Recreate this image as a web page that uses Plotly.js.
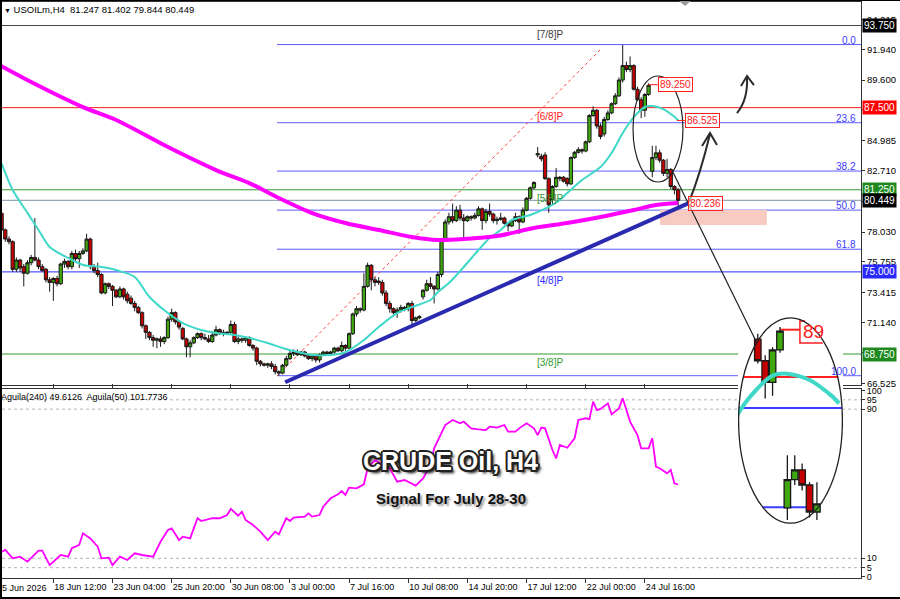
<!DOCTYPE html>
<html><head><meta charset="utf-8">
<script src="https://cdn.plot.ly/plotly-3.0.1.min.js"></script>
<style>
html,body{margin:0;padding:0;background:#fff;}
#wrap{position:relative;width:900px;height:599px;overflow:hidden;}
#chart{width:900px;height:599px;}
#frame{position:absolute;left:0;top:0;width:900px;height:599px;box-sizing:border-box;border-left:2px solid #000;border-bottom:2px solid #000;border-top:1px solid #000;pointer-events:none;}
</style>
</head><body><div id="wrap"><div id="chart"></div><div id="frame"></div></div>
<script>
// ---------------- DATA ----------------
const symbol = 'USOILm,H4';
const firstBar = 2;
const tickBars = [16,32,48,64,80,96,112,128,144,160,176];
const tickLabels = ['18 Jun 12:00','23 Jun 04:00','25 Jun 20:00','30 Jun 08:00','3 Jul 00:00','7 Jul 16:00','10 Jul 08:00','14 Jul 20:00','17 Jul 12:00','22 Jul 00:00','24 Jul 16:00'];
const firstLabel = '15 Jun 2026';
const priceTicks = [94.215,91.940,89.600,87.325,84.985,82.710,80.370,78.030,75.755,73.415,71.140,68.865,66.525];
const indTicks = [0,5,10,90,95,100];
const indLevels = [95,90,10,5];

const opens = [79.46,78.2,77.5,77.3,75.2,75.9,75.4,74.9,75.7,76.1,
75.9,75.4,75.2,74.4,74.2,74.5,74.1,75.6,75.8,75.4,
76.4,76.0,76.4,76.6,77.5,75.4,75.1,74.8,73.4,74.1,
73.9,73.6,73.1,73.7,73.3,73.0,72.6,72.3,71.9,70.9,
70.4,70.0,69.8,69.9,69.7,70.0,71.4,71.9,71.2,70.7,
69.9,69.3,69.6,70.0,70.3,70.0,69.9,69.7,70.2,70.6,
70.4,70.3,70.4,71.0,69.7,69.9,69.8,70.0,69.4,69.2,
68.2,68.0,67.9,68.0,67.8,67.4,67.3,67.9,68.4,68.8,
68.9,68.7,68.9,68.6,68.4,68.6,68.3,68.7,68.9,68.8,
68.9,69.2,69.0,69.4,69.2,70.3,71.8,72.2,72.1,73.9,
75.5,74.4,74.3,74.2,73.4,72.6,72.2,71.9,72.1,72.3,
72.2,72.6,71.3,71.5,73.1,73.6,74.1,73.9,73.7,74.8,
77.4,78.8,79.2,78.9,79.7,79.1,78.9,79.2,79.1,79.3,
79.8,78.9,79.6,79.4,78.9,79.0,79.1,78.7,78.5,78.9,
79.2,78.8,79.7,80.6,81.4,83.9,83.8,83.9,82.1,80.5,
81.5,82.1,82.2,82.1,81.7,83.7,84.1,84.3,84.2,84.9,
86.9,87.3,86.1,85.5,86.6,87.1,87.8,88.4,89.6,90.7,
90.4,90.7,88.9,88.1,87.3,88.5,82.65,83.7,84.06,83.5,
82.5,82.8,81.5,81.247];
const highs = [79.6,78.3,77.7,77.4,76.1,76.0,75.6,75.9,76.3,79.1,
76.1,75.6,75.3,74.6,74.6,74.7,75.7,76.0,75.9,76.6,
76.7,76.6,76.8,77.9,77.6,75.6,75.7,74.9,74.2,74.2,
74.0,73.7,73.9,73.8,73.5,73.2,72.8,72.4,72.0,71.0,
70.5,70.2,70.0,70.1,70.1,71.6,72.2,72.0,71.3,70.8,
70.0,69.8,70.1,70.4,70.4,70.3,70.2,70.5,70.9,70.7,
70.6,70.5,71.3,71.2,70.1,70.0,70.1,70.1,69.5,69.3,
68.3,68.1,68.1,68.2,68.0,67.5,68.0,68.6,69.0,69.1,
69.1,69.0,69.0,68.7,68.7,68.7,68.8,69.0,69.0,69.0,
69.3,69.3,69.7,69.5,70.4,71.9,72.4,72.3,74.9,75.7,
75.6,74.6,74.6,74.4,73.6,72.8,72.3,72.3,72.5,72.4,
72.7,72.8,71.6,71.7,73.7,74.4,74.6,74.0,75.0,77.5,
79.0,79.5,80.2,80.0,80.1,79.4,79.3,79.3,79.5,80.0,
79.9,79.8,80.2,79.5,79.2,79.5,79.2,78.8,79.0,79.5,
79.3,79.9,80.7,81.5,81.9,84.5,84.0,84.1,82.2,81.6,
82.9,82.3,82.3,82.2,83.8,84.2,84.5,84.4,85.0,87.0,
87.6,87.4,86.3,86.8,87.3,87.9,88.6,89.8,92.27,91.0,
91.4,90.8,89.1,88.3,88.6,89.35,84.6,84.6,84.3,83.6,
83.6,82.9,81.6,81.402];
const lows = [78.1,77.3,77.1,75.0,75.0,75.0,73.9,74.8,75.5,75.8,
75.2,75.0,74.2,73.5,72.8,73.9,74.0,75.3,75.2,75.2,
75.8,75.3,76.3,76.5,75.2,74.9,74.6,73.3,73.3,73.7,
72.4,73.0,73.0,72.9,72.6,72.5,72.0,71.8,70.7,69.9,
69.8,69.3,69.2,69.3,69.5,69.9,71.2,71.0,70.6,69.8,
68.5,68.5,69.5,69.9,69.8,69.8,69.6,69.6,70.1,70.2,
70.1,70.2,70.3,69.6,69.5,69.6,69.6,69.3,69.0,67.9,
67.8,67.8,67.7,67.6,67.2,67.1,67.2,67.8,68.3,68.6,
68.6,68.6,68.5,68.3,68.2,68.1,68.1,68.6,68.7,68.7,
68.8,68.9,68.9,69.0,69.1,70.2,71.6,71.9,72.0,73.8,
73.6,73.9,74.0,73.2,72.4,71.9,71.6,71.5,71.9,72.0,
72.0,71.0,71.2,71.4,72.9,73.5,73.7,72.6,73.6,74.6,
77.3,78.6,78.7,78.8,78.9,77.4,78.8,78.9,79.0,79.2,
78.2,78.7,79.2,78.7,78.6,78.9,78.6,78.1,78.4,78.8,
77.9,78.7,79.6,80.5,81.3,83.7,83.4,82.0,79.5,80.1,
81.4,81.9,81.8,81.5,81.6,83.6,84.0,84.0,84.1,84.8,
86.8,85.9,85.1,85.3,86.5,87.0,87.7,88.3,89.4,90.2,
90.2,88.8,88.0,86.7,86.8,88.4,82.2,83.5,83.3,82.3,
82.2,81.3,80.9,79.844];
const closes = [78.19,77.5,77.3,75.2,75.9,75.3,74.9,75.7,76.1,75.9,
75.4,75.1,74.4,74.2,74.5,74.1,75.6,75.8,75.4,76.4,
76.0,76.4,76.6,77.5,75.4,75.1,74.8,73.4,74.1,73.9,
73.6,73.1,73.7,73.1,72.8,72.6,72.3,71.9,70.9,70.4,
70.0,69.8,69.9,69.7,70.0,71.4,71.9,71.2,70.8,69.9,
69.3,69.6,70.0,70.3,70.0,69.9,69.7,70.2,70.6,70.4,
70.3,70.4,71.0,69.7,69.9,69.8,70.0,69.4,69.2,68.2,
68.0,67.9,68.0,67.8,67.4,67.3,67.9,68.4,68.8,68.9,
68.7,68.9,68.6,68.4,68.6,68.3,68.7,68.9,68.8,68.9,
69.2,69.0,69.4,69.2,70.3,71.8,72.2,72.1,73.9,75.5,
74.4,74.2,74.2,73.4,72.6,72.2,71.9,72.1,72.3,72.2,
72.6,71.3,71.5,71.6,73.6,74.1,73.9,73.7,74.8,77.4,
78.8,79.2,78.9,79.7,79.1,78.9,79.2,79.1,79.3,79.8,
78.9,79.6,79.4,78.9,79.0,79.1,78.7,78.5,78.9,79.2,
78.8,79.7,80.6,81.4,81.8,84.0,83.6,82.1,80.1,81.5,
82.2,82.2,81.9,81.7,83.7,84.1,84.3,84.2,84.9,86.9,
87.3,86.1,85.3,86.6,87.1,87.8,88.4,89.6,90.7,90.4,
90.7,88.9,88.1,87.3,88.5,89.2,83.7,84.06,83.5,82.5,
82.8,81.5,81.25,80.449];

// slow moving average (magenta, thick)
const maBars = [1,10,24,33,47,60,69,77,86,95,104,113,120,127,136,146,155,164,173,179,185];
const maVals = [90.8,89.45,87.54,86.56,84.50,82.75,81.76,80.62,79.48,78.72,78.19,77.66,77.43,77.50,77.73,78.34,78.72,79.18,79.71,80.09,80.236];
// fast moving average (turquoise)
const cyanBars = [2,5,9,12,15,20,24,29,33,38,42,47,51,56,60,65,69,74,78,82,86,91,95,100,104,109,113,118,120,123,127,131,134,137,140,145,150,153,155,159,164,167,170,173,176,178,181,184,185];
const cyanVals = [83.26,81.23,79.49,78.19,76.90,76.06,75.53,75.37,75.14,74.61,73.09,71.87,71.11,70.58,70.35,70.20,69.97,69.59,69.21,68.90,68.68,68.68,68.90,69.82,70.81,71.87,72.33,72.86,73.47,74.15,75.37,76.67,77.58,78.19,78.95,79.33,79.94,80.47,81.00,81.99,82.98,84.05,85.57,86.78,87.55,87.62,87.39,86.80,86.525];
// oscillator (Aguila 240)
const indBars = [2,3,5,7,9,12,13,15,18,20,21,23,24,26,28,29,31,32,34,36,38,40,43,45,47,48,50,51,53,55,56,59,61,63,64,66,67,68,70,72,74,76,77,79,80,81,84,85,86,88,89,91,93,94,95,96,98,100,101,103,107,109,111,112,114,116,118,119,122,124,126,127,129,131,133,134,136,138,139,141,142,144,146,147,148,149,151,152,153,155,157,158,160,161,162,163,164,166,167,169,170,172,174,175,177,178,179,180,182,183,184,185];
const indVals = [13.6,14.5,10.0,10.9,8.2,14.1,14.1,6.4,11.8,10.9,15.4,17.2,23.4,20.7,16.3,10.0,10.4,6.4,10.9,9.1,12.7,11.8,10.9,18.9,25.2,26.1,19.8,21.6,20.7,31.5,30.0,31.5,31.5,33.2,36.5,32.9,35.0,30.6,27.9,24.3,19.8,24.3,22.9,31.5,30.0,31.8,32.4,34.1,32.4,33.2,37.7,42.2,44.3,46.1,44.0,47.9,47.5,49.7,58.3,62.7,58.3,51.1,52.0,51.1,49.0,52.9,60.1,69.0,81.5,84.2,82.4,83.3,79.7,79.2,78.8,80.6,80.1,81.5,77.9,77.9,79.7,82.4,79.7,76.1,80.1,79.7,68.1,63.6,70.8,69.3,74.4,84.2,85.1,84.6,94.0,89.5,90.1,93.1,87.2,90.4,95.8,83.3,76.1,69.0,69.0,74.4,59.2,58.3,55.6,57.4,50.2,49.6];
const indLegend = 'Aguila(240) 49.6126  Aguila(50) 101.7736';

// horizontal levels (Murrey)
const levelPrices = [93.75,87.5,81.25,75.0,68.75];
const levelNames = ['[7/8]P','[6/8]P','[5/8]P','[4/8]P','[3/8]P'];
const levelColors = ['#3a3a3a','#ff1a1a','#2f9a2f','#2a2aff','#2f9a2f'];
const levelBoxColors = ['#000000','#ff0000','#1e8a1e','#2a2aff','#1e8a1e'];
// Fibonacci retracement
const fibHigh = 92.30, fibLow = 67.10, fibStartBar = 76.5;
const fibLevels = [0.0,23.6,38.2,50.0,61.8,100.0];
const fibLabels = ['0.0','23.6','38.2','50.0','61.8','100.0'];
// trend line and dotted fib trend
const trendBars = [78.7,187.7], trendPrices = [66.6,80.22];
const dotBars = [76.5,164.4], dotPrices = [67.08,92.04];
// marked prices
const markHigh = 89.25;
const markFast = cyanVals[cyanVals.length-1];
const markSlow = maVals[maVals.length-1];
// support zone
const zoneBars = [180.1,209.0], zonePrices = [78.57,79.71];

// ---------------- GEOMETRY ----------------
const L=2, R=861, T=2, B=578;
const pxX = p => (p-L)/(R-L);
const pxY = p => (B-p)/(B-T);
const xRange = [2.11,234.46];
const yRange = [66.393,95.54];
const y2Range = [-0.54,100.8];
const insetX = [171.32,185.53], insetY = [82.056,89.72];

const bars = opens.map((_,i)=>i+firstBar);
const lastIdx = closes.length-1;
const fmt = v => v.toFixed(3);

const incStyle = {line:{color:'#1a1a1a',width:1},fillcolor:'#3fa80f'};
const decStyle = {line:{color:'#1a1a1a',width:1},fillcolor:'#c40000'};

const inBars=[],inO=[],inH=[],inL=[],inC=[];
bars.forEach((b,i)=>{ if(b>=174 && b<=182){inBars.push(b);inO.push(opens[i]);inH.push(highs[i]);inL.push(lows[i]);inC.push(closes[i]);} });

const traces = [
 {type:'candlestick',x:bars,open:opens,high:highs,low:lows,close:closes,xaxis:'x',yaxis:'y',increasing:incStyle,decreasing:decStyle,hoverinfo:'skip',showlegend:false},
 {type:'scatter',mode:'lines',x:cyanBars,y:cyanVals,xaxis:'x',yaxis:'y',line:{color:'#3fd8c8',width:2,shape:'spline',smoothing:0.8},hoverinfo:'skip'},
 {type:'scatter',mode:'lines',x:maBars,y:maVals,xaxis:'x',yaxis:'y',line:{color:'#ff00ff',width:4,shape:'spline',smoothing:0.8},hoverinfo:'skip'},
 {type:'scatter',mode:'lines',x:indBars,y:indVals,xaxis:'x',yaxis:'y2',line:{color:'#ff00ff',width:1.8},hoverinfo:'skip'},
 // magnified inset
 {type:'scatter',mode:'lines',x:cyanBars,y:cyanVals,xaxis:'x3',yaxis:'y3',line:{color:'#3fd8c8',width:4,shape:'spline',smoothing:0.8},hoverinfo:'skip'},
 {type:'candlestick',x:inBars,open:inO,high:inH,low:inL,close:inC,xaxis:'x3',yaxis:'y3',increasing:{line:{color:'#1a1a1a',width:1.3},fillcolor:'#3fa80f'},decreasing:{line:{color:'#1a1a1a',width:1.3},fillcolor:'#c40000'},hoverinfo:'skip'}
];

const shapes = [];
const annotations = [];
// murrey lines
levelPrices.forEach((p,i)=>{
  shapes.push({type:'line',xref:'x',yref:'y',x0:xRange[0],x1:xRange[1],y0:p,y1:p,line:{color:levelColors[i]==='#3a3a3a'?'#444':levelColors[i],width:1},layer:'below'});
  annotations.push({xref:'x',yref:'y',x:146.3,y:p,xanchor:'left',yanchor:'top',yshift:-1,text:levelNames[i],showarrow:false,font:{size:10,color:levelColors[i]}});
  annotations.push({xref:'paper',yref:'y',x:1,y:p,xanchor:'left',yanchor:'middle',xshift:1,text:fmt(p),showarrow:false,bgcolor:levelBoxColors[i],borderpad:1,font:{size:10,color:'#fff'}});
});
// current price line
shapes.push({type:'line',xref:'x',yref:'y',x0:xRange[0],x1:xRange[1],y0:closes[lastIdx],y1:closes[lastIdx],line:{color:'#7f93a6',width:1},layer:'below'});
annotations.push({xref:'paper',yref:'y',x:1,y:closes[lastIdx],xanchor:'left',yanchor:'middle',xshift:1,text:fmt(closes[lastIdx]),showarrow:false,bgcolor:'#000',borderpad:1,font:{size:10,color:'#fff'}});
// fibonacci
fibLevels.forEach((f,i)=>{
  const p = fibHigh-(fibHigh-fibLow)*f/100;
  shapes.push({type:'line',xref:'x',yref:'y',x0:fibStartBar,x1:xRange[1],y0:p,y1:p,line:{color:'#5c5cff',width:1},layer:'below'});
  annotations.push({xref:'paper',yref:'y',x:pxX(858),y:p,xanchor:'right',yanchor:'bottom',yshift:-3,text:fibLabels[i],showarrow:false,font:{size:10,color:'#3c3cff'}});
});
// dotted fib trend
shapes.push({type:'line',xref:'x',yref:'y',x0:dotBars[0],x1:dotBars[1],y0:dotPrices[0],y1:dotPrices[1],line:{color:'#ff4040',width:1,dash:'dot'},layer:'below'});
// support zone
shapes.push({type:'rect',xref:'x',yref:'y',x0:zoneBars[0],x1:zoneBars[1],y0:zonePrices[0],y1:zonePrices[1],fillcolor:'#f8cbc2',line:{width:0},layer:'below'});
// oscillator levels
indLevels.forEach(v=>shapes.push({type:'line',xref:'x',yref:'y2',x0:xRange[0],x1:xRange[1],y0:v,y1:v,line:{color:'#b4b4b4',width:1,dash:'dot'},layer:'below'}));
// trend line
shapes.push({type:'line',xref:'x',yref:'y',x0:trendBars[0],x1:trendBars[1],y0:trendPrices[0],y1:trendPrices[1],line:{color:'#2a2ab0',width:4},layer:'above'});
// circle on main chart
shapes.push({type:'circle',xref:'x',yref:'y',x0:172.8,x1:186.3,y0:81.84,y1:89.91,line:{color:'#222',width:1.2},layer:'above'});
// pointer line to inset
shapes.push({type:'line',xref:'x',yref:'y',x0:183.3,y0:82.75,x1:206.3,y1:69.59,line:{color:'#222',width:1.2},layer:'above'});
// curved arrows
shapes.push({type:'path',xref:'x',yref:'y',path:'M187.94,80.32 Q190.91,82.37 193.62,85.49 M191.46,84.58 L193.62,85.57 L195.51,84.66',line:{color:'#2b2b2b',width:2},layer:'above'});
shapes.push({type:'path',xref:'x',yref:'y',path:'M200.92,87.09 Q203.9,88.08 203.63,89.83 M202.0,89.15 L203.63,89.91 L205.5,89.22',line:{color:'#2b2b2b',width:2},layer:'above'});
// price marks with connector lines
shapes.push({type:'line',xref:'x',yref:'y',x0:177,x1:179.5,y0:markHigh,y1:markHigh,line:{color:'#ff2020',width:1},layer:'above'});
annotations.push({xref:'x',yref:'y',x:179.5,y:markHigh,xanchor:'left',yanchor:'middle',text:markHigh.toFixed(3),showarrow:false,bgcolor:'rgba(255,255,255,0.85)',bordercolor:'#ff2020',borderwidth:1,borderpad:1,font:{size:10,color:'#ff2020'}});
shapes.push({type:'line',xref:'x',yref:'y',x0:184.7,x1:186.9,y0:markFast,y1:markFast,line:{color:'#ff2020',width:1},layer:'above'});
annotations.push({xref:'x',yref:'y',x:186.9,y:markFast,xanchor:'left',yanchor:'middle',text:markFast.toFixed(3),showarrow:false,bgcolor:'rgba(255,255,255,0.85)',bordercolor:'#ff2020',borderwidth:1,borderpad:1,font:{size:10,color:'#ff2020'}});
annotations.push({xref:'x',yref:'y',x:187.7,y:markSlow,xanchor:'left',yanchor:'middle',text:markSlow.toFixed(3),showarrow:false,bgcolor:'rgba(255,255,255,0.6)',bordercolor:'#ff2020',borderwidth:1,borderpad:1,font:{size:10,color:'#ff2020'}});

// ---- inset (magnified view) ----
shapes.push({type:'circle',xref:'x3',yref:'y3',x0:insetX[0],x1:insetX[1],y0:insetY[0],y1:insetY[1],fillcolor:'#ffffff',line:{width:0},layer:'below'});
shapes.push({type:'line',xref:'x3',yref:'y3',x0:172.1,x1:184.9,y0:levelPrices[1],y1:levelPrices[1],line:{color:'#ff2020',width:2},layer:'below'});
const fib236 = fibHigh-(fibHigh-fibLow)*fibLevels[1]/100;
const fib382 = fibHigh-(fibHigh-fibLow)*fibLevels[2]/100;
shapes.push({type:'line',xref:'x3',yref:'y3',x0:171.4,x1:185.4,y0:fib236,y1:fib236,line:{color:'#3c3cff',width:2},layer:'below'});
shapes.push({type:'line',xref:'x3',yref:'y3',x0:174.6,x1:182.5,y0:fib382,y1:fib382,line:{color:'#3c3cff',width:2},layer:'below'});
shapes.push({type:'line',xref:'x3',yref:'y3',x0:177,x1:179.7,y0:markHigh,y1:markHigh,line:{color:'#ff2020',width:2},layer:'below'});
shapes.push({type:'path',xref:'x3',yref:'y3',path:'M182.8,88.76 L179.7,88.76 L179.7,89.57 L180.4,89.57',line:{color:'#ff2020',width:1.5},layer:'below'});
annotations.push({xref:'x3',yref:'y3',x:179.8,y:89.17,xanchor:'left',yanchor:'middle',text:'89',showarrow:false,font:{size:19,color:'#ff2020'}});
shapes.push({type:'circle',xref:'x3',yref:'y3',x0:insetX[0]+0.08,x1:insetX[1]-0.08,y0:insetY[0]+0.03,y1:insetY[1]-0.03,line:{color:'#222',width:1.3},layer:'above'});

// shift marker
shapes.push({type:'path',xref:'paper',yref:'paper',path:`M${pxX(678)},${pxY(0)} L${pxX(692)},${pxY(0)} L${pxX(685)},${pxY(6)} Z`,fillcolor:'#9a9a9a',line:{width:0},layer:'above'});

// texts
annotations.push({xref:'paper',yref:'paper',x:pxX(2),y:pxY(10),xanchor:'left',yanchor:'middle',showarrow:false,
  text:`<span style="font-size:7px">▼</span> ${symbol}  ${fmt(opens[lastIdx])} ${fmt(highs[lastIdx])} ${fmt(lows[lastIdx])} ${fmt(closes[lastIdx])}`,font:{size:9.5,color:'#000'}});
annotations.push({xref:'paper',yref:'paper',x:pxX(-1),y:pxY(397),xanchor:'left',yanchor:'middle',showarrow:false,text:indLegend,font:{size:9,color:'#000'}});
annotations.push({xref:'paper',yref:'paper',x:pxX(-5),y:pxY(588),xanchor:'left',yanchor:'middle',showarrow:false,text:firstLabel,font:{size:9,color:'#000'}});
annotations.push({xref:'paper',yref:'paper',x:pxX(451),y:pxY(461),xanchor:'center',yanchor:'middle',showarrow:false,text:'CRUDE Oil, H4',
  font:{family:'Liberation Sans, Arial, sans-serif',size:25,weight:'bold',color:'#ffffff',shadow:'-1.5px -1.5px 0 #222,1.5px -1.5px 0 #222,-1.5px 1.5px 0 #222,1.5px 1.5px 0 #222,0 -2px 0 #222,0 2px 0 #222,-2px 0 0 #222,2px 0 0 #222,3px 3px 3px #000'}});
annotations.push({xref:'paper',yref:'paper',x:pxX(451),y:pxY(498),xanchor:'center',yanchor:'middle',showarrow:false,text:'Signal For July 28-30',
  font:{family:'Liberation Sans, Arial, sans-serif',size:15,weight:'bold',color:'#111',shadow:'2px 2px 2px #9a9a9a'}});

const layout = {
  width:900,height:599,margin:{l:L,r:900-R,t:T,b:599-B},
  paper_bgcolor:'#fff',plot_bgcolor:'#fff',showlegend:false,hovermode:false,
  font:{family:'Liberation Sans, Arial, sans-serif',size:9.5,color:'#000'},
  boxgap:0.12,boxgroupgap:0,
  xaxis:{range:xRange,anchor:'y2',showgrid:false,zeroline:false,showline:true,linecolor:'#333',linewidth:1,mirror:'all',
    ticks:'outside',ticklen:4,tickcolor:'#333',tickvals:tickBars,ticktext:tickLabels,ticklabelposition:'outside right',tickangle:0,
    tickfont:{size:9},rangeslider:{visible:false},fixedrange:true},
  yaxis:{domain:[pxY(385),1],range:yRange,side:'right',anchor:'x',showgrid:false,zeroline:false,showline:true,mirror:true,linecolor:'#333',
    ticks:'outside',ticklen:3,tickcolor:'#333',tickvals:priceTicks,ticktext:priceTicks.map(fmt),tickfont:{size:9.5},fixedrange:true},
  yaxis2:{domain:[0,pxY(389)],range:y2Range,side:'right',anchor:'x',showgrid:false,zeroline:false,showline:true,mirror:true,linecolor:'#333',
    ticks:'outside',ticklen:3,tickcolor:'#333',tickvals:indTicks,ticktext:indTicks.map(String),tickfont:{size:9},fixedrange:true},
  xaxis3:{domain:[pxX(738),pxX(843)],range:insetX,anchor:'y3',visible:false,rangeslider:{visible:false},fixedrange:true},
  yaxis3:{domain:[pxY(524),pxY(317)],range:insetY,anchor:'x3',visible:false,fixedrange:true},
  shapes:shapes,annotations:annotations
};
Plotly.newPlot('chart',traces,layout,{staticPlot:true,displayModeBar:false});
</script></body></html>
